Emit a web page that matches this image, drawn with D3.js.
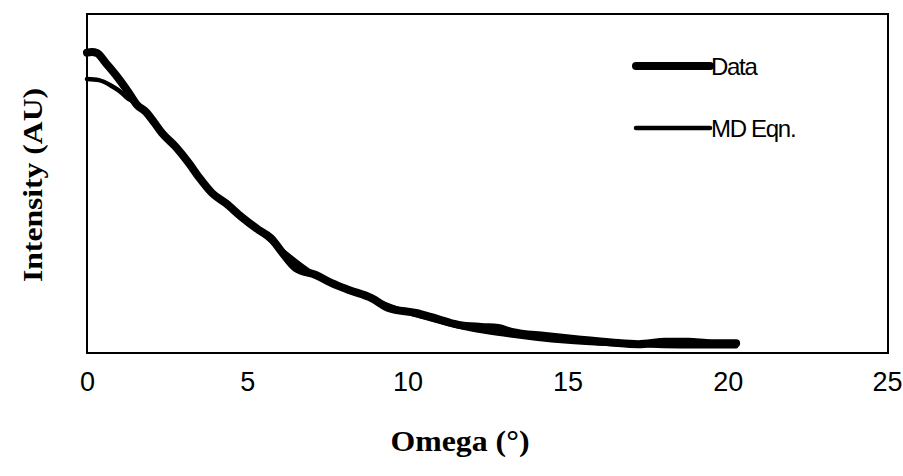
<!DOCTYPE html>
<meta charset="utf-8">
<script src="https://d3js.org/d3.v7.min.js"></script>
<style>
  body { margin: 0; background: #fff; }
</style>
<svg id="chart" width="903" height="476"></svg>
<script>
// omega (deg) and intensity (AU)
const dataOmega = [0, 0.15, 0.31, 0.59, 0.90, 1.31, 1.56, 1.84, 2.09, 2.34, 2.77, 3.18, 3.49, 3.90, 4.33, 4.83, 5.36, 5.74, 6.08, 6.51, 7.14, 7.64, 8.17, 8.88, 9.41, 10.26, 10.75, 11.60, 12.31, 12.84, 13.25, 14.31, 15.34, 16.37, 17.21, 18.05, 18.77, 19.48, 20.26];
const dataIntensity = [0.886, 0.888, 0.885, 0.855, 0.820, 0.767, 0.732, 0.711, 0.681, 0.649, 0.608, 0.560, 0.519, 0.472, 0.442, 0.401, 0.363, 0.339, 0.298, 0.251, 0.230, 0.206, 0.186, 0.162, 0.133, 0.118, 0.106, 0.083, 0.077, 0.074, 0.062, 0.050, 0.040, 0.031, 0.026, 0.033, 0.033, 0.029, 0.029];

const mdOmega = [0, 0.37, 0.78, 1.09, 1.22, 1.5, 2, 3, 4, 5, 6, 7, 8, 9, 10, 11, 12, 13, 14, 15, 16, 17, 18, 19, 20, 20.26];
const mdIntensity = [0.808, 0.805, 0.787, 0.767, 0.755, 0.738, 0.690, 0.580, 0.465, 0.390, 0.310, 0.238, 0.192, 0.155, 0.120, 0.093, 0.070, 0.055, 0.043, 0.034, 0.028, 0.024, 0.021, 0.020, 0.020, 0.020];

const xTicks = [0, 5, 10, 15, 20, 25];
const legendLabels = ["Data", "MD Eqn."];

const svg = d3.select("#chart");
const plotL = 87, plotR = 888, plotT = 14, plotB = 353;

const x = d3.scaleLinear().domain([0, 25]).range([plotL, plotR]);
const y = d3.scaleLinear().domain([0, 1]).range([plotB, plotT]);

// frame
svg.append("rect")
  .attr("x", plotL).attr("y", plotT)
  .attr("width", plotR - plotL).attr("height", plotB - plotT)
  .attr("fill", "none").attr("stroke", "#000").attr("stroke-width", 2);

const line = d3.line().x(d => x(d[0])).y(d => y(d[1])).curve(d3.curveMonotoneX);

const data = dataOmega.map((o, i) => [o, dataIntensity[i]]);
const md = mdOmega.map((o, i) => [o, mdIntensity[i]]);

svg.append("path").datum(data)
  .attr("d", line)
  .attr("fill", "none").attr("stroke", "#000")
  .attr("stroke-width", 8).attr("stroke-linecap", "round").attr("stroke-linejoin", "round");

svg.append("path").datum(md)
  .attr("d", line)
  .attr("fill", "none").attr("stroke", "#000")
  .attr("stroke-width", 4.5).attr("stroke-linecap", "round");

// x axis labels, no tick marks
const xAxis = svg.append("g")
  .attr("transform", `translate(0,${plotB})`)
  .call(d3.axisBottom(x).tickValues(xTicks).tickSize(0).tickPadding(19));
xAxis.select(".domain").remove();
xAxis.selectAll("text")
  .attr("font-family", "Liberation Sans, Arial, sans-serif")
  .attr("font-size", 27)
  .attr("fill", "#000");
// keep the last label inside the page
xAxis.selectAll("text").filter(d => d === 25).attr("dx", -1);

svg.append("text")
  .attr("x", 460).attr("y", 451)
  .attr("text-anchor", "middle")
  .attr("font-family", "Liberation Serif, Times New Roman, serif")
  .attr("font-weight", "bold").attr("font-size", 29)
  .attr("textLength", 139).attr("lengthAdjust", "spacingAndGlyphs")
  .text("Omega (\u00b0)");

svg.append("text")
  .attr("transform", "translate(42,185) rotate(-90)")
  .attr("text-anchor", "middle")
  .attr("font-family", "Liberation Serif, Times New Roman, serif")
  .attr("font-weight", "bold").attr("font-size", 28)
  .attr("textLength", 194).attr("lengthAdjust", "spacingAndGlyphs")
  .text("Intensity (AU)");

// legend
const legend = svg.append("g");
const legendWidths = [8, 4.5];
legendLabels.forEach((lab, i) => {
  const ly = 66 + i * 62;
  legend.append("line")
    .attr("x1", 636).attr("x2", 710).attr("y1", ly).attr("y2", ly)
    .attr("stroke", "#000").attr("stroke-width", legendWidths[i]).attr("stroke-linecap", "round");
  legend.append("text")
    .attr("x", 711).attr("y", ly + 9)
    .attr("font-family", "Liberation Sans, Arial, sans-serif")
    .attr("font-size", 24).attr("letter-spacing", -1.3)
    .text(lab);
});
</script>
